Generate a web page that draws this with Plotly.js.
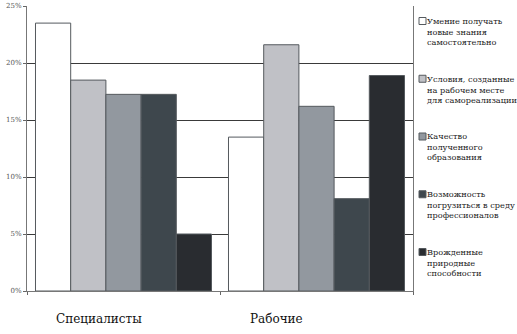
<!DOCTYPE html>
<html>
<head>
<meta charset="utf-8">
<script src="https://cdn.plot.ly/plotly-3.0.1.min.js"></script>
<style>html,body{margin:0;padding:0;background:#fff;}#chart{width:517px;height:334px;}</style>
</head>
<body>
<div id="chart"></div>
<script>
const categories = ["Специалисты", "Рабочие"];
const seriesNames = [
  "Умение получать<br>новые знания<br>самостоятельно",
  "Условия, созданные<br>на рабочем месте<br>для самореализации",
  "Качество<br>полученного<br>образования",
  "Возможность<br>погрузиться в среду<br>профессионалов",
  "Врожденные<br>природные<br>способности"
];
const umenie = [23.5, 13.5];
const usloviya = [18.5, 21.6];
const kachestvo = [17.25, 16.2];
const vozmozhnost = [17.25, 8.1];
const vrozhdennye = [5.0, 18.9];
const seriesValues = [umenie, usloviya, kachestvo, vozmozhnost, vrozhdennye];
const yTicks = [0, 5, 10, 15, 20, 25];

const colors = ["#ffffff", "#c0c1c6", "#92989f", "#3e474d", "#292c30"];
const W = 517, H = 334;
const mL = 27, mR = 104, mT = 6, mB = 43;
const pw = W - mL - mR, ph = H - mT - mB;
const serif = "DejaVu Serif";

const traces = seriesValues.map((vals, i) => ({
  type: "bar",
  x: categories,
  y: vals,
  name: seriesNames[i].replace(/<br>/g, " "),
  marker: {color: colors[i], line: {color: "#555a5e", width: 1}},
  hoverinfo: "skip"
}));

const annotations = [];
const shapes = [];
const labelShift = [-25, -40];
categories.forEach((c, i) => {
  annotations.push({
    x: c, xref: "x", y: 0, yref: "paper", yshift: -28,
    xshift: labelShift[i],
    text: c, showarrow: false, xanchor: "center", yanchor: "middle",
    font: {family: serif, size: 12, color: "#111"}
  });
});
const px2x = p => (p - mL) / pw;
const px2y = p => (H - mB - p) / ph;
seriesNames.forEach((n, i) => {
  const cy = 21 + i * 57.75;
  annotations.push({
    x: px2x(425), xref: "paper", y: px2y(cy - 7.2), yref: "paper",
    text: n, showarrow: false, xanchor: "left", yanchor: "top", align: "left",
    font: {family: serif, size: 8.2, color: "#222"}
  });
  shapes.push({
    type: "rect", xref: "paper", yref: "paper",
    x0: px2x(419), x1: px2x(426), y0: px2y(cy + 3.5), y1: px2y(cy - 3.5),
    fillcolor: colors[i], line: {color: "#555a5e", width: 1}
  });
});

const layout = {
  width: W, height: H,
  font: {family: serif},
  margin: {l: mL, r: mR, t: mT, b: mB, pad: 0},
  paper_bgcolor: "#fff", plot_bgcolor: "#fff",
  barmode: "group", bargap: 0.088, bargroupgap: 0,
  showlegend: false,
  xaxis: {
    type: "category", showticklabels: false, tickson: "boundaries",
    ticks: "outside", ticklen: 3, tickcolor: "#666",
    showline: true, linecolor: "#777", linewidth: 1, mirror: false,
    showgrid: false, zeroline: false, fixedrange: true
  },
  yaxis: {
    range: [0, 25], tickvals: yTicks, ticktext: yTicks.map(v => v + "%"),
    ticks: "outside", ticklen: 3, tickcolor: "#666",
    showline: true, linecolor: "#777", linewidth: 1, mirror: true,
    showgrid: true, gridcolor: "#3a3a3a", gridwidth: 1,
    zeroline: false,
    tickfont: {family: serif, size: 7, color: "#555"}, fixedrange: true
  },
  annotations: annotations,
  shapes: shapes
};

Plotly.newPlot("chart", traces, layout, {displayModeBar: false, staticPlot: true});
</script>
</body>
</html>
